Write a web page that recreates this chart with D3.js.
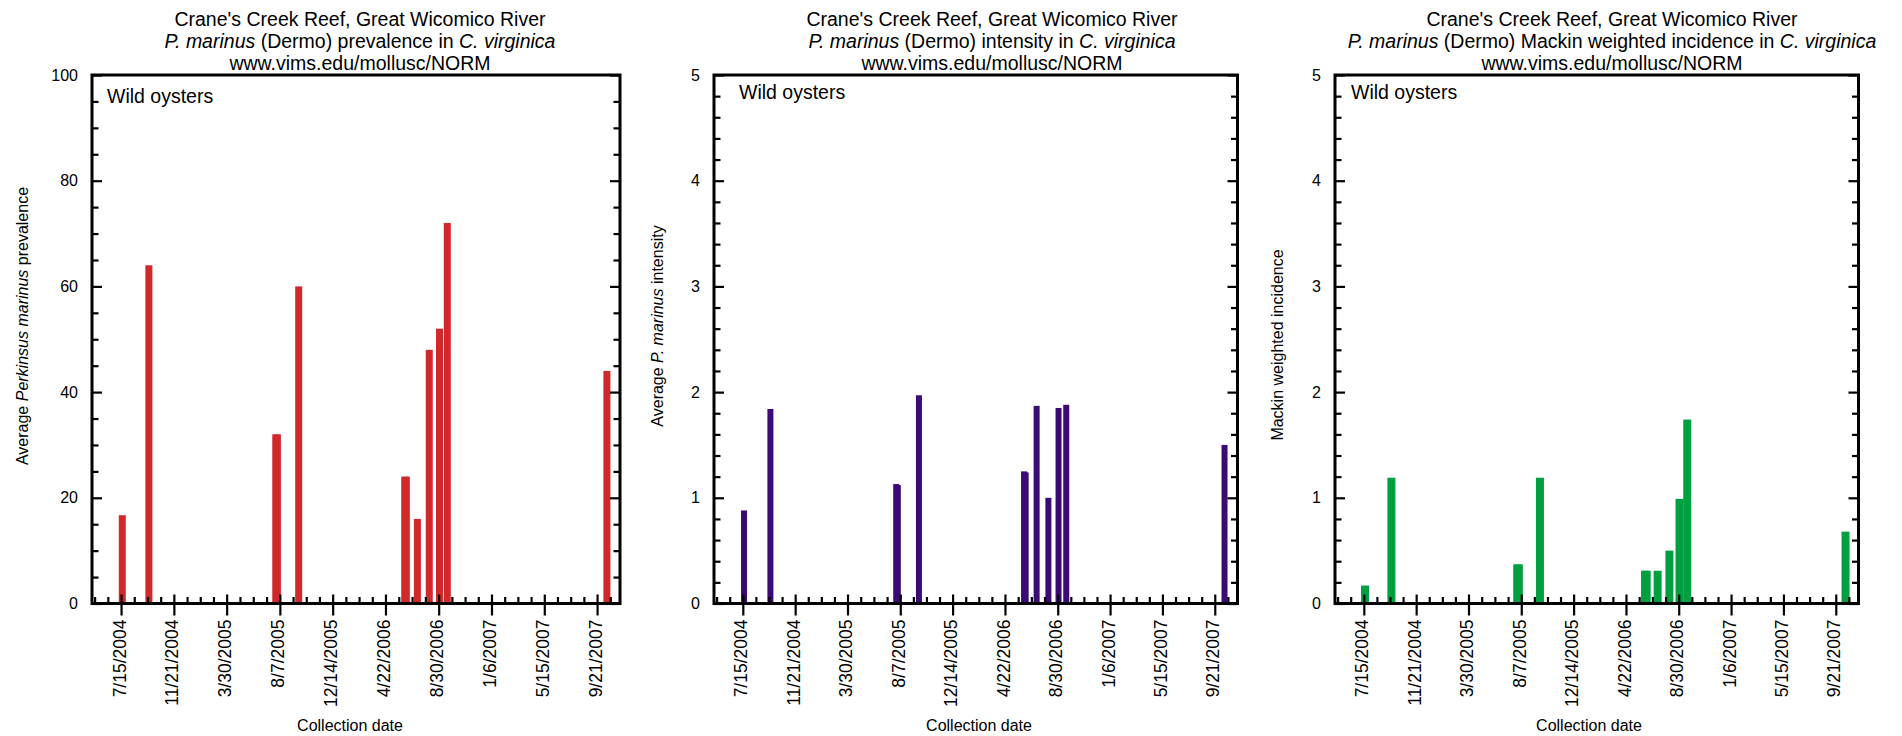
<!DOCTYPE html>
<html><head><meta charset="utf-8">
<script src="https://cdn.jsdelivr.net/npm/d3@7"></script>
<style>
body{margin:0;background:#fff}
svg text{font-family:"Liberation Sans",Arial,Helvetica,sans-serif;fill:#000}
</style>
</head><body>
<svg id="chart" width="1902" height="736"></svg>
<script>
// ---------- data ----------
const sampleDates = ["2004-07-18","2004-09-21","2005-07-28","2005-08-01","2005-09-22","2006-06-08","2006-06-12","2006-07-09","2006-08-07","2006-09-01","2006-09-20","2007-10-15"];
const prevalence  = [16.7, 64, 32, 32, 60, 24, 24, 16, 48, 52, 72, 44];
const intensity   = [0.88, 1.84, 1.13, 1.12, 1.97, 1.25, 1.24, 1.87, 1.00, 1.85, 1.88, 1.50];
const mackin      = [0.17, 1.19, 0.37, 0.37, 1.19, 0.31, 0.31, 0.31, 0.50, 0.99, 1.74, 0.68];
const dateTickLabels = ["7/15/2004","11/21/2004","3/30/2005","8/7/2005","12/14/2005","4/22/2006","8/30/2006","1/6/2007","5/15/2007","9/21/2007"];
const xDomain = ["2004-05-05","2007-11-16"];
const prevalenceTicks = [0,20,40,60,80,100];
const scoreTicks = [0,1,2,3,4,5];
const titleLine1 = "Crane's Creek Reef, Great Wicomico River";
const titleLine3 = "www.vims.edu/mollusc/NORM";
const siteNote = "Wild oysters";
const xTitle = "Collection date";

// ---------- layout / style ----------
const svg = d3.select("#chart");
const parseISO = d3.utcParse("%Y-%m-%d");
const parseMDY = d3.utcParse("%-m/%-d/%Y");
const fmtMDY = d3.utcFormat("%-m/%-d/%Y");
const TOP = 75, BOTTOM = 603.5;
const FONT = '"Liberation Sans",Arial,Helvetica,sans-serif';

const panels = [
  { values: prevalence, color: "#D1292A", left: 92, right: 620, ticks: prevalenceTicks, minorStep: 5, barW: 7,
    title2: [["P. marinus", true], [" (Dermo) prevalence in ", false], ["C. virginica", true]],
    titleX: 360, ylab: [["Average ", false], ["Perkinsus marinus", true], [" prevalence", false]],
    ylabX: 22, ylabY: 326, noteDx: 15, noteDy: 28, xlabX: 350 },
  { values: intensity, color: "#3C0A74", left: 714, right: 1237.5, ticks: scoreTicks, minorStep: 0.2, barW: 6,
    title2: [["P. marinus", true], [" (Dermo) intensity in ", false], ["C. virginica", true]],
    titleX: 992, ylab: [["Average ", false], ["P. marinus", true], [" intensity", false]],
    ylabX: 657, ylabY: 326, noteDx: 25, noteDy: 24, xlabX: 979 },
  { values: mackin, color: "#00A040", left: 1335, right: 1858.5, ticks: scoreTicks, minorStep: 0.2, barW: 8,
    title2: [["P. marinus", true], [" (Dermo) Mackin weighted incidence in ", false], ["C. virginica", true]],
    titleX: 1612, ylab: [["Mackin weighted incidence", false]],
    ylabX: 1277, ylabY: 345, noteDx: 16, noteDy: 24, xlabX: 1589 }
];

const dates = sampleDates.map(parseISO);
const majorDates = dateTickLabels.map(parseMDY);
// minor ticks: 3 between each pair of majors, plus continuation to the ends
function minorTicks(domain) {
  const out = [];
  const t = majorDates.map(d => +d);
  const step = (t[t.length - 1] - t[0]) / (t.length - 1) / 4;
  for (let v = t[0] - step; v >= +domain[0]; v -= step) out.push(new Date(v));
  for (let i = 0; i < t.length - 1; i++) for (let k = 1; k < 4; k++) out.push(new Date(t[i] + (t[i + 1] - t[i]) * k / 4));
  for (let v = t[t.length - 1] + step; v <= +domain[1]; v += step) out.push(new Date(v));
  return out;
}

function styleAxis(g, size) {
  g.attr("font-family", FONT).attr("font-size", size);
  g.select(".domain").remove();
  g.selectAll("line").attr("stroke", "#000").attr("stroke-width", 2.2);
  g.selectAll("text").attr("fill", "#000");
}

panels.forEach(p => {
  const x = d3.scaleUtc().domain(xDomain.map(parseISO)).range([p.left, p.right]);
  const yMax = p.ticks[p.ticks.length - 1];
  const y = d3.scaleLinear().domain([0, yMax]).range([BOTTOM, TOP]);
  const minorY = d3.range(0, yMax + 1e-9, p.minorStep).filter(v => !p.ticks.some(t => Math.abs(t - v) < 1e-6));
  const g = svg.append("g");

  // bars
  g.append("g").selectAll("rect").data(dates.map((d, i) => ({ d, v: p.values[i] })))
    .join("rect")
    .attr("x", d => x(d.d) - p.barW / 2)
    .attr("width", p.barW)
    .attr("y", d => y(d.v))
    .attr("height", d => y(0) - y(d.v))
    .attr("fill", p.color);

  // left axis
  g.append("g").attr("transform", `translate(${p.left},0)`)
    .call(d3.axisLeft(y).tickValues(p.ticks).tickSize(-10).tickPadding(14).tickFormat(d3.format("d")))
    .call(a => styleAxis(a, 16));
  g.append("g").attr("transform", `translate(${p.left},0)`)
    .call(d3.axisLeft(y).tickValues(minorY).tickSize(-6.5).tickFormat(""))
    .call(a => styleAxis(a, 16));
  // right axis
  g.append("g").attr("transform", `translate(${p.right},0)`)
    .call(d3.axisRight(y).tickValues(p.ticks).tickSize(-10).tickFormat(""))
    .call(a => styleAxis(a, 16));
  g.append("g").attr("transform", `translate(${p.right},0)`)
    .call(d3.axisRight(y).tickValues(minorY).tickSize(-6.5).tickFormat(""))
    .call(a => styleAxis(a, 16));

  // bottom axis: majors cross the line
  g.append("g").attr("transform", `translate(0,${BOTTOM})`)
    .call(d3.axisBottom(x).tickValues(majorDates).tickSize(12).tickFormat(fmtMDY))
    .call(a => styleAxis(a, 17.5))
    .call(a => a.selectAll("text")
      .attr("transform", "rotate(-90)")
      .attr("text-anchor", "end")
      .attr("x", -16).attr("y", -2).attr("dy", "0.35em"));
  g.append("g").attr("transform", `translate(0,${BOTTOM})`)
    .call(d3.axisTop(x).tickValues(majorDates).tickSize(9).tickFormat(""))
    .call(a => styleAxis(a, 15));
  g.append("g").attr("transform", `translate(0,${BOTTOM})`)
    .call(d3.axisTop(x).tickValues(minorTicks(x.domain())).tickSize(6.5).tickFormat(""))
    .call(a => styleAxis(a, 15));

  // frame
  g.append("rect").attr("x", p.left).attr("y", TOP)
    .attr("width", p.right - p.left).attr("height", BOTTOM - TOP)
    .attr("fill", "none").attr("stroke", "#000").attr("stroke-width", 3);

  // titles
  const tf = 19.5;
  g.append("text").attr("x", p.titleX).attr("y", 26).attr("text-anchor", "middle")
    .attr("font-size", tf).text(titleLine1);
  const t2 = g.append("text").attr("x", p.titleX).attr("y", 48).attr("text-anchor", "middle").attr("font-size", tf);
  p.title2.forEach(([s, it]) => t2.append("tspan").attr("font-style", it ? "italic" : "normal").text(s));
  g.append("text").attr("x", p.titleX).attr("y", 69.5).attr("text-anchor", "middle")
    .attr("font-size", tf).text(titleLine3);

  // note
  g.append("text").attr("x", p.left + p.noteDx).attr("y", TOP + p.noteDy).attr("font-size", 19.5).text(siteNote);

  // y label
  const yl = g.append("text").attr("transform", `translate(${p.ylabX},${p.ylabY}) rotate(-90)`)
    .attr("text-anchor", "middle").attr("dy", "0.35em").attr("font-size", 16);
  p.ylab.forEach(([s, it]) => yl.append("tspan").attr("font-style", it ? "italic" : "normal").text(s));

  // x label
  g.append("text").attr("x", p.xlabX).attr("y", 731).attr("text-anchor", "middle")
    .attr("font-size", 16).text(xTitle);
});
</script>
</body></html>
